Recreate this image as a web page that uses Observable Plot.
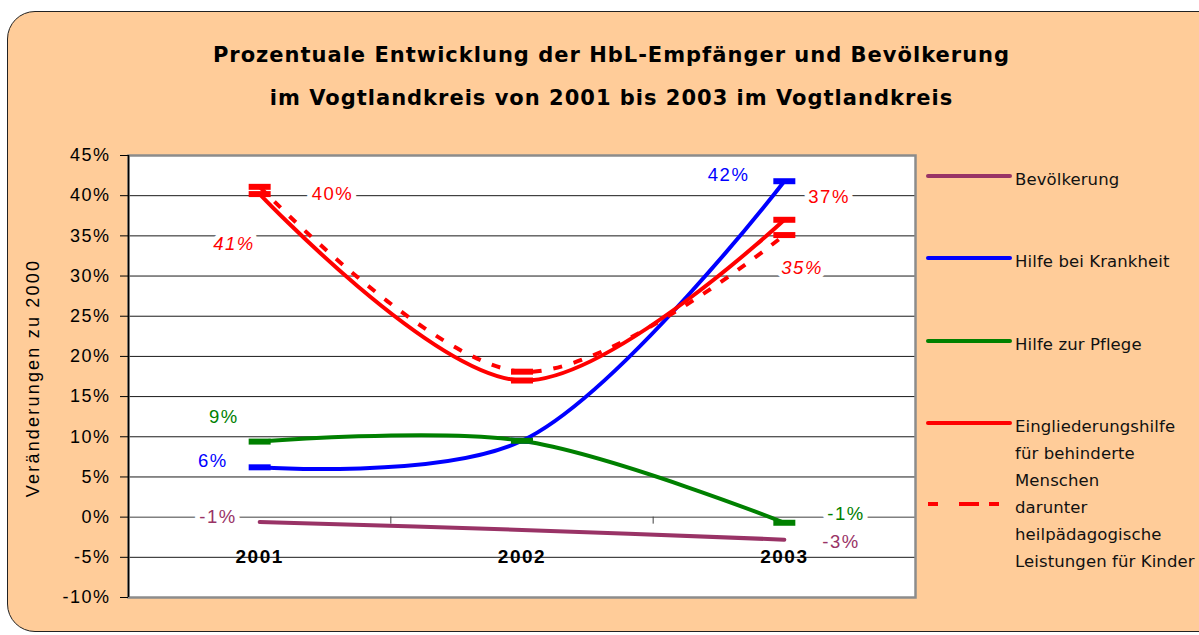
<!DOCTYPE html>
<html><head><meta charset="utf-8">
<script src="https://cdn.jsdelivr.net/npm/d3@7"></script>
<script src="https://cdn.jsdelivr.net/npm/@observablehq/plot@0.6"></script>
<style>
html,body{margin:0;padding:0;background:#fff;}
#wrap{position:relative;width:1199px;height:635px;overflow:hidden;}
#bg{position:absolute;left:7px;top:11px;width:1240px;height:621px;border:1.5px solid #222;border-radius:28px;background:#FFCC99;box-sizing:border-box;}
#title{position:absolute;left:12px;top:34px;width:1199px;text-align:center;font-family:"DejaVu Sans";font-weight:bold;font-size:21px;line-height:43px;letter-spacing:1px;color:#000;}
#ylabel{position:absolute;left:33px;top:378px;transform:translate(-50%,-50%) rotate(-90deg);white-space:nowrap;font-family:"Liberation Sans";font-size:18px;letter-spacing:2.2px;color:#000;}
#chart{position:absolute;left:0;top:140px;}
#legend{position:absolute;left:920px;top:150px;}
</style></head><body>
<div id="wrap"><div id="bg"></div><div id="title"></div><div id="ylabel"></div><div id="chart"></div><svg id="legend"></svg></div>
<script>
// ---- data ----
const titleLines = ["Prozentuale Entwicklung der HbL-Empfänger und Bevölkerung", "im Vogtlandkreis von 2001 bis 2003 im Vogtlandkreis"];
const yLabel = "Veränderungen zu 2000";
const years = [2001, 2002, 2003];
const yTicks = [-10, -5, 0, 5, 10, 15, 20, 25, 30, 35, 40, 45];
const seriesNames = ["Bevölkerung", "Hilfe bei Krankheit", "Hilfe zur Pflege", "Eingliederungshilfe für behinderte Menschen", "darunter heilpädagogische Leistungen für Kinder"];
const legendLabels = [["Bevölkerung"], ["Hilfe bei Krankheit"], ["Hilfe zur Pflege"], ["Eingliederungshilfe", "für behinderte", "Menschen"], ["darunter", "heilpädagogische", "Leistungen für Kinder"]];
const bevoelkerung = [-0.6, -1.6, -2.8];
const krankheit = [6.2, 9.5, 41.8];
const pflege = [9.4, 9.5, -0.7];
const eingliederung = [40.2, 17.0, 37.0];
const heilpaed = [41.1, 18.1, 35.1];
const seriesValues = [bevoelkerung, krankheit, pflege, eingliederung, heilpaed];

// ---- styles ----
const colors = ["#993366", "#0000FF", "#008000", "#FF0000", "#FF0000"];
const dashes = [null, null, null, null, "9,12"];
const markers = [false, true, true, true, true];
const italic = [false, false, false, false, true];
// label placement for first / last point: [anchor, dx, dy]
const labelPlace = [
  [["end", -23, -5], ["start", 38, 2]],
  [["end", -32, -6], ["end", -35, -6]],
  [["end", -21, -25], ["start", 43, -9]],
  [["start", 52, 0], ["start", 24, -23]],
  [["end", -5, 57], ["start", -3, 33]]
];
const legendRowY = [176, 258, 341, 423, 504];

document.getElementById("title").innerHTML = titleLines.join("<br>");
document.getElementById("ylabel").textContent = yLabel;

const rows = seriesNames.flatMap((name, i) => years.map((yr, j) => ({series: i, name, year: yr, value: seriesValues[i][j]})));
const xDomain = [years[0] - 0.5, years[years.length - 1] + 0.5];
const bounds = d3.range(xDomain[0], xDomain[1] + 0.01, 1);
const dashSymbol = {draw(ctx) { ctx.rect(-11, -3, 22, 6); }};

const lineMarks = seriesNames.map((n, i) => Plot.line(rows.filter(d => d.series === i), {
  x: "year", y: "value", stroke: colors[i], strokeWidth: 4, curve: "catmull-rom",
  strokeDasharray: dashes[i] || undefined, strokeLinecap: dashes[i] ? "butt" : "round"
}));
const markerMarks = seriesNames.map((n, i) => markers[i] ? Plot.dot(rows.filter(d => d.series === i), {
  x: "year", y: "value", symbol: dashSymbol, fill: colors[i], stroke: "none", r: 5
}) : null).filter(Boolean);
const labelMarks = seriesNames.flatMap((n, i) => [0, years.length - 1].map((j, k) => {
  const [anchor, dx, dy] = labelPlace[i][k];
  const pt = rows.filter(d => d.series === i && d.year === years[j]);
  return Plot.text(pt, {
    x: "year", y: "value", text: d => Math.round(d.value) + "%",
    textAnchor: anchor, dx, dy, fill: colors[i], fontStyle: italic[i] ? "italic" : "normal",
    stroke: "white", strokeWidth: 10, strokeLinejoin: "round", paintOrder: "stroke", fontSize: 18.5
  });
}));

const chart = Plot.plot({
  width: 930, height: 470,
  marginLeft: 128, marginRight: 15, marginTop: 15, marginBottom: 13,
  style: {fontFamily: "Liberation Sans", fontSize: "18px", letterSpacing: "1.5px", background: "none", overflow: "visible", color: "#000"},
  x: {domain: xDomain, axis: null},
  y: {domain: [yTicks[0], yTicks[yTicks.length - 1]], axis: null},
  marks: [
    Plot.frame({fill: "white"}),
    Plot.ruleY(yTicks.filter(d => d !== 0), {stroke: "#1a1a1a", strokeWidth: 1}),
    Plot.ruleY([0], {stroke: "#808080", strokeWidth: 1.5}),
    Plot.ruleX(bounds, {y1: 0, y2: 0, insetBottom: -7, stroke: "#404040"}),
    Plot.frame({stroke: "#8c8c8c", strokeWidth: 2.5}),
    Plot.ruleX([xDomain[0]], {stroke: "#000", strokeWidth: 1.5}),
    Plot.axisY({ticks: yTicks, tickSize: 8, tickPadding: 10, tickFormat: d => d + "%", label: null, fontSize: 18}),
    Plot.text(years, {x: d => d, y: 0, dy: 40, text: d => String(d), fontWeight: "bold", fontSize: 19, letterSpacing: "2.5px", fill: "#000"}),
    ...lineMarks,
    ...markerMarks,
    ...labelMarks
  ]
});
document.getElementById("chart").appendChild(chart);

// legend
const leg = d3.select("#legend").attr("width", 279).attr("height", 440)
  .style("font-family", "DejaVu Sans").style("font-size", "16.5px").style("letter-spacing", "0.1px");
seriesNames.forEach((n, i) => {
  const ly = legendRowY[i] - 150;
  leg.append("line").attr("x1", 8).attr("x2", 90).attr("y1", ly).attr("y2", ly)
    .attr("stroke", colors[i]).attr("stroke-width", 4)
    .attr("stroke-linecap", dashes[i] ? "butt" : "round")
    .attr("stroke-dasharray", dashes[i] ? "10,21,20,10,10,40" : null);
  legendLabels[i].forEach((t, k) => {
    leg.append("text").attr("x", 95).attr("y", ly + 3 + k * 27)
      .attr("dominant-baseline", "central").attr("fill", "#111").text(t);
  });
});
</script>
</body></html>
